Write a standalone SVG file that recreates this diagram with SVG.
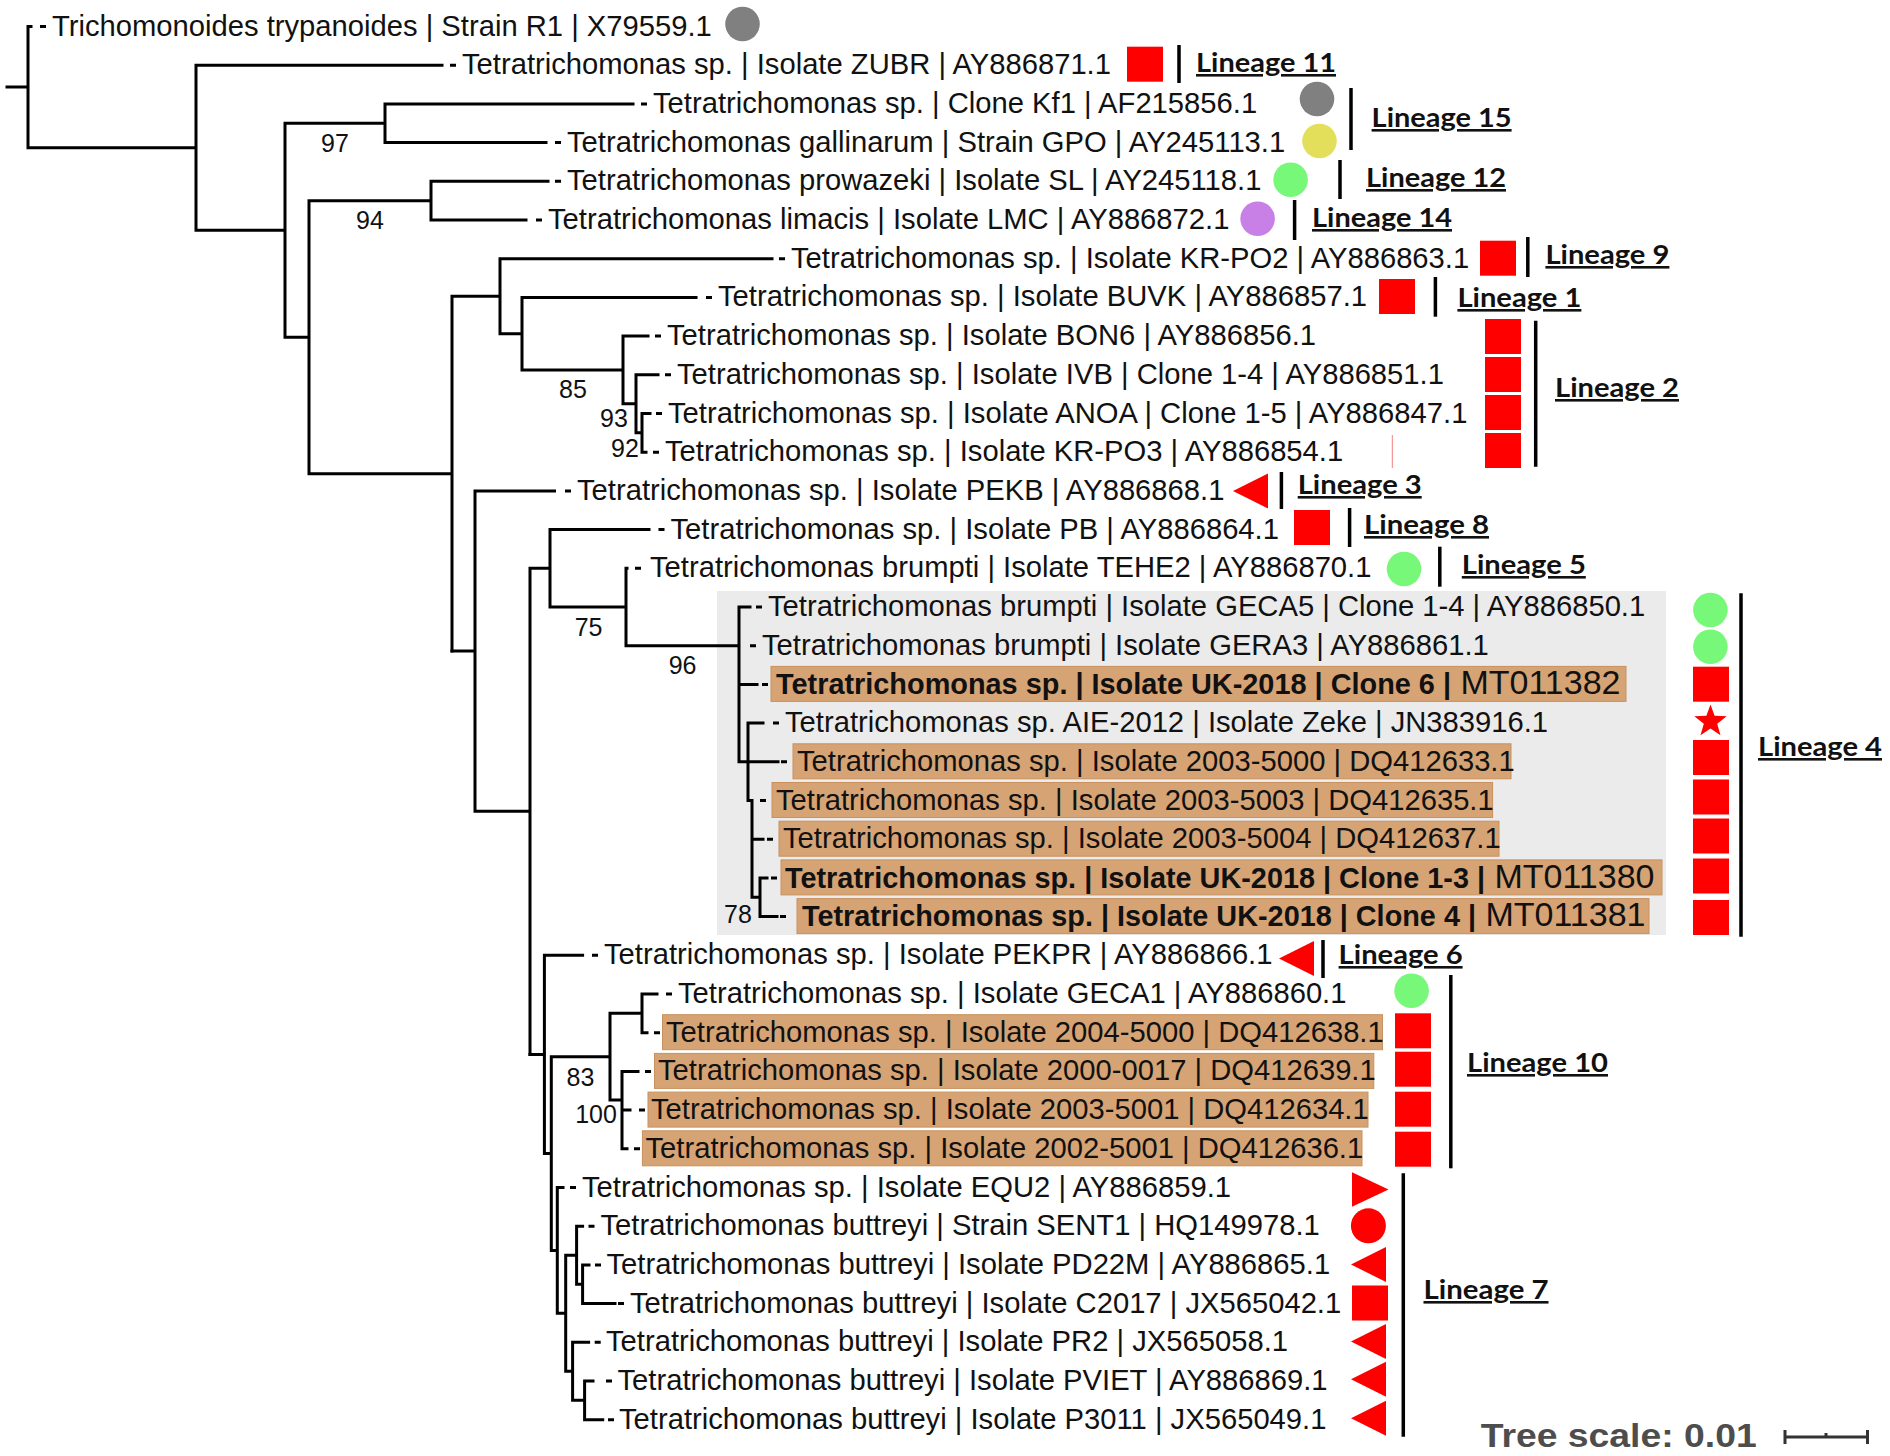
<svg xmlns="http://www.w3.org/2000/svg" xmlns:xlink="http://www.w3.org/1999/xlink" width="1890" height="1456" viewBox="0 0 1890 1456">
<style>
.br{stroke:#000;stroke-width:3;fill:none;stroke-linecap:square;stroke-linejoin:miter}
.ds{stroke:#000;stroke-width:3;fill:none}
.lbl{font-family:"Liberation Sans",Arial,sans-serif;font-size:29.2px;fill:#111}
.b{font-weight:bold}
.mt{font-weight:normal;font-size:34px}
.hl{fill:#d6a374;stroke:#c9915d;stroke-width:1}
.sup{font-family:"Liberation Sans",Arial,sans-serif;font-size:25px;fill:#111;text-anchor:middle}
.lin{font-family:Lato,"Liberation Sans",sans-serif;font-weight:bold;font-size:26px;fill:#111;text-decoration:underline}
.bar{stroke:#000;stroke-width:3.5}
.red{fill:#ff0000}
.scale{font-family:"Liberation Sans",Arial,sans-serif;font-weight:bold;font-size:33px;fill:#4d4d4d}
</style>
<defs>
<rect id="sq" width="36" height="35" fill="#ff0000"/>
<polygon id="tl" points="0,17.5 35,0 35,35" fill="#ff0000"/>
<polygon id="tr" points="0,0 0,34.5 36.5,17.2" fill="#ff0000"/>
</defs>
<rect id="lineage4-bg" x="717" y="591" width="949" height="344" fill="#ebebeb"/>
<g id="connectors">
<path class="br" d="M7,87.1H28M28,26.5V147.7M28,26.5H31M28,147.7H196M196,65.2V230.2M196,65.2H442M196,230.2H285M285,123.25V337.15M285,123.25H385M385,103.9V142.6M385,103.9H633M385,142.6H546M285,337.15H309M309,200.65V473.65M309,200.65H431M431,181.3V220M431,181.3H548M431,220H526M309,473.65H452M452,296.2V651.1M452,296.2H500M500,258.7V333.7M500,258.7H772M500,333.7H522M522,297.4V369.95M522,297.4H696M522,369.95H623M623,336.1V403.8M623,336.1H648M623,403.8H636M636,374.8V432.85M636,374.8H658M636,432.85H642M642,413.5V452.2M642,413.5H650M642,452.2H646"/>
<path class="br" d="M452,651.1H475M475,490.9V811.35M475,490.9H554.5M475,811.35H530M530,568.3V1054.4M530,568.3H550M550,529.6V607M550,529.6H649M550,607H626M626,568.3V645.7M626,568.3H627M626,645.7H739M739,607V761.8M739,607H750M739,684.4H757M739,761.8H748M748,723.1V800.5M748,723.1H763M748,761.8H778M748,800.5H752M752,800.5V897.25M752,839.2H763M752,897.25H760M760,877.9V916.6M760,877.9H767M760,916.6H777"/>
<path class="br" d="M530,1054.4H544.4M544.4,955.3V1153.55M544.4,955.3H582.6M544.4,1153.55H551.3M551.3,1056.7V1250.4M551.3,1056.7H610M610,1013.35V1100M610,1013.35H642M642,994V1032.7M642,994H657M642,1032.7H647M610,1100H622M622,1071.4V1148.8M622,1071.4H638M622,1110.1H630M622,1148.8H627M551.3,1250.4H557.3M557.3,1187.5V1313.25M557.3,1187.5H563M557.3,1313.25H565.7M565.7,1255.2V1371.3M565.7,1255.2H576.6M576.6,1226.2V1284.25M576.6,1226.2H582.6M576.6,1284.25H582.6M582.6,1264.9V1303.6M582.6,1264.9H589M582.6,1303.6H615M565.7,1371.3H572.6M572.6,1342.3V1400.35M572.6,1342.3H588.6M572.6,1400.35H584.6M584.6,1381V1419.7M584.6,1381H593M584.6,1419.7H602.7"/>
<path class="ds" d="M40,26.5h6M450,65.2h6M641,103.9h6M555,142.6h6M555,181.3h6M536,220h6M779,258.7h6M706,297.4h6M655,336.1h6M665,374.8h6M656,413.5h6M653,452.2h6M565,490.9h6M658.5,529.6h6M635,568.3h6M756,607h6M750,645.7h6M762,684.4h6M773,723.1h6M781,761.8h6M760,800.5h6M767,839.2h6M771,877.9h6M780,916.6h6M592,955.3h6M666,994h6M654,1032.7h6M645,1071.4h6M639,1110.1h6M634,1148.8h6M570,1187.5h6M588.5,1226.2h6M595,1264.9h6M618,1303.6h6M594.7,1342.3h6M606,1381h6M608,1419.7h6"/>
</g>
<g id="support-values">
<text class="sup" x="335" y="152">97</text>
<text class="sup" x="370" y="229">94</text>
<text class="sup" x="573" y="398">85</text>
<text class="sup" x="614" y="427">93</text>
<text class="sup" x="625" y="457">92</text>
<text class="sup" x="588.6" y="635.7">75</text>
<text class="sup" x="682.6" y="674">96</text>
<text class="sup" x="738" y="922.5">78</text>
<text class="sup" x="580.5" y="1085.5">83</text>
<text class="sup" x="596" y="1123">100</text>
</g>
<g id="leaf-0"><text class="lbl" x="52" y="35.5">Trichomonoides trypanoides | Strain R1 | X79559.1</text><circle cx="742.5" cy="24" r="17.3" fill="#808080"/></g>
<g id="leaf-1"><text class="lbl" x="462" y="74.2">Tetratrichomonas sp. | Isolate ZUBR | AY886871.1</text><use href="#sq" x="1127" y="46.7"/></g>
<g id="leaf-2"><text class="lbl" x="653" y="112.9">Tetratrichomonas sp. | Clone Kf1 | AF215856.1</text><circle cx="1317" cy="99" r="17.3" fill="#808080"/></g>
<g id="leaf-3"><text class="lbl" x="567" y="151.6">Tetratrichomonas gallinarum | Strain GPO | AY245113.1</text><circle cx="1319.5" cy="141" r="17.3" fill="#e3df5a"/></g>
<g id="leaf-4"><text class="lbl" x="567" y="190.3">Tetratrichomonas prowazeki | Isolate SL | AY245118.1</text><circle cx="1290.6" cy="179.8" r="17.3" fill="#78f878"/></g>
<g id="leaf-5"><text class="lbl" x="548" y="229">Tetratrichomonas limacis | Isolate LMC | AY886872.1</text><circle cx="1257.6" cy="218.7" r="17.3" fill="#c880e6"/></g>
<g id="leaf-6"><text class="lbl" x="791" y="267.7">Tetratrichomonas sp. | Isolate KR-PO2 | AY886863.1</text><use href="#sq" x="1480" y="240.7"/></g>
<g id="leaf-7"><text class="lbl" x="718" y="306.4">Tetratrichomonas sp. | Isolate BUVK | AY886857.1</text><use href="#sq" x="1379" y="279"/></g>
<g id="leaf-8"><text class="lbl" x="667" y="345.1">Tetratrichomonas sp. | Isolate BON6 | AY886856.1</text><use href="#sq" x="1485" y="319"/></g>
<g id="leaf-9"><text class="lbl" x="677" y="383.8">Tetratrichomonas sp. | Isolate IVB | Clone 1-4 | AY886851.1</text><use href="#sq" x="1485" y="357"/></g>
<g id="leaf-10"><text class="lbl" x="668" y="422.5">Tetratrichomonas sp. | Isolate ANOA | Clone 1-5 | AY886847.1</text><use href="#sq" x="1485" y="395"/></g>
<g id="leaf-11"><text class="lbl" x="665" y="461.2">Tetratrichomonas sp. | Isolate KR-PO3 | AY886854.1</text><line x1="1392.3" y1="435" x2="1392.3" y2="468" stroke="#f08080" stroke-width="1"/><use href="#sq" x="1485" y="433"/></g>
<g id="leaf-12"><text class="lbl" x="577" y="499.9">Tetratrichomonas sp. | Isolate PEKB | AY886868.1</text><use href="#tl" x="1233" y="473.5"/></g>
<g id="leaf-13"><text class="lbl" x="670.5" y="538.6">Tetratrichomonas sp. | Isolate PB | AY886864.1</text><use href="#sq" x="1294" y="510"/></g>
<g id="leaf-14"><text class="lbl" x="650" y="577.3">Tetratrichomonas brumpti | Isolate TEHE2 | AY886870.1</text><circle cx="1404" cy="569" r="17.3" fill="#78f878"/></g>
<g id="leaf-15"><text class="lbl" x="768" y="616">Tetratrichomonas brumpti | Isolate GECA5 | Clone 1-4 | AY886850.1</text><circle cx="1710.4" cy="610" r="17.3" fill="#78f878"/></g>
<g id="leaf-16"><text class="lbl" x="762" y="654.7">Tetratrichomonas brumpti | Isolate GERA3 | AY886861.1</text><circle cx="1710.4" cy="646.8" r="17.3" fill="#78f878"/></g>
<g id="leaf-17"><rect class="hl" x="771" y="666.4" width="855" height="35"/><text class="lbl" x="776" y="694"><tspan class="b" textLength="675" lengthAdjust="spacingAndGlyphs">Tetratrichomonas sp. | Isolate UK-2018 | Clone 6 |</tspan><tspan class="mt"> MT011382</tspan></text><use href="#sq" x="1693" y="666.7"/></g>
<g id="leaf-18"><text class="lbl" x="785" y="732.1">Tetratrichomonas sp. AIE-2012 | Isolate Zeke | JN383916.1</text><polygon class="red" points="1710.5,704.5 1714.6,715.8 1726.7,716.2 1717.2,723.7 1720.5,735.2 1710.5,728.5 1700.5,735.2 1703.8,723.7 1694.3,716.2 1706.4,715.8"/></g>
<g id="leaf-19"><rect class="hl" x="793" y="743.8" width="718" height="35"/><text class="lbl" x="797" y="770.8">Tetratrichomonas sp. | Isolate 2003-5000 | DQ412633.1</text><use href="#sq" x="1693" y="740"/></g>
<g id="leaf-20"><rect class="hl" x="772" y="782.5" width="720.6" height="35"/><text class="lbl" x="776" y="809.5">Tetratrichomonas sp. | Isolate 2003-5003 | DQ412635.1</text><use href="#sq" x="1693" y="779.5"/></g>
<g id="leaf-21"><rect class="hl" x="779" y="821.2" width="720" height="35"/><text class="lbl" x="783" y="848.2">Tetratrichomonas sp. | Isolate 2003-5004 | DQ412637.1</text><use href="#sq" x="1693" y="818.5"/></g>
<g id="leaf-22"><rect class="hl" x="781" y="859.9" width="881" height="35"/><text class="lbl" x="785" y="887.5"><tspan class="b" textLength="700" lengthAdjust="spacingAndGlyphs">Tetratrichomonas sp. | Isolate UK-2018 | Clone 1-3 |</tspan><tspan class="mt"> MT011380</tspan></text><use href="#sq" x="1693" y="858.5"/></g>
<g id="leaf-23"><rect class="hl" x="797" y="898.6" width="852" height="35"/><text class="lbl" x="802" y="926.2"><tspan class="b" textLength="674" lengthAdjust="spacingAndGlyphs">Tetratrichomonas sp. | Isolate UK-2018 | Clone 4 |</tspan><tspan class="mt"> MT011381</tspan></text><use href="#sq" x="1693" y="900"/></g>
<g id="leaf-24"><text class="lbl" x="604" y="964.3">Tetratrichomonas sp. | Isolate PEKPR | AY886866.1</text><use href="#tl" x="1279" y="941"/></g>
<g id="leaf-25"><text class="lbl" x="678" y="1003">Tetratrichomonas sp. | Isolate GECA1 | AY886860.1</text><circle cx="1411.6" cy="990.8" r="17.3" fill="#78f878"/></g>
<g id="leaf-26"><rect class="hl" x="662.5" y="1014.7" width="720" height="35"/><text class="lbl" x="666" y="1041.7">Tetratrichomonas sp. | Isolate 2004-5000 | DQ412638.1</text><use href="#sq" x="1395" y="1013.3"/></g>
<g id="leaf-27"><rect class="hl" x="654.5" y="1053.4" width="719.3" height="35"/><text class="lbl" x="658" y="1080.4">Tetratrichomonas sp. | Isolate 2000-0017 | DQ412639.1</text><use href="#sq" x="1395" y="1051.7"/></g>
<g id="leaf-28"><rect class="hl" x="648" y="1092.1" width="720" height="35"/><text class="lbl" x="651" y="1119.1">Tetratrichomonas sp. | Isolate 2003-5001 | DQ412634.1</text><use href="#sq" x="1395" y="1091.7"/></g>
<g id="leaf-29"><rect class="hl" x="642.4" y="1130.8" width="719.6" height="35"/><text class="lbl" x="645.5" y="1157.8">Tetratrichomonas sp. | Isolate 2002-5001 | DQ412636.1</text><use href="#sq" x="1395" y="1131.7"/></g>
<g id="leaf-30"><text class="lbl" x="582" y="1196.5">Tetratrichomonas sp. | Isolate EQU2 | AY886859.1</text><use href="#tr" x="1352" y="1172.3"/></g>
<g id="leaf-31"><text class="lbl" x="600.5" y="1235.2">Tetratrichomonas buttreyi | Strain SENT1 | HQ149978.1</text><circle cx="1368.4" cy="1225.8" r="17.5" fill="#ff0000"/></g>
<g id="leaf-32"><text class="lbl" x="606.5" y="1273.9">Tetratrichomonas buttreyi | Isolate PD22M | AY886865.1</text><use href="#tl" x="1351" y="1247"/></g>
<g id="leaf-33"><text class="lbl" x="630" y="1312.6">Tetratrichomonas buttreyi | Isolate C2017 | JX565042.1</text><use href="#sq" x="1352" y="1285.5"/></g>
<g id="leaf-34"><text class="lbl" x="606" y="1351.3">Tetratrichomonas buttreyi | Isolate PR2 | JX565058.1</text><use href="#tl" x="1351" y="1324"/></g>
<g id="leaf-35"><text class="lbl" x="617.5" y="1390">Tetratrichomonas buttreyi | Isolate PVIET | AY886869.1</text><use href="#tl" x="1351" y="1361.7"/></g>
<g id="leaf-36"><text class="lbl" x="619" y="1428.7">Tetratrichomonas buttreyi | Isolate P3011 | JX565049.1</text><use href="#tl" x="1351" y="1400.7"/></g>
<g id="lineage-11"><line class="bar" x1="1179" y1="45" x2="1179" y2="83"/><text class="lin" x="1196" y="72" textLength="140" lengthAdjust="spacingAndGlyphs">Lineage 11</text></g>
<g id="lineage-15"><line class="bar" x1="1351" y1="88" x2="1351" y2="150"/><text class="lin" x="1371.6" y="127" textLength="140" lengthAdjust="spacingAndGlyphs">Lineage 15</text></g>
<g id="lineage-12"><line class="bar" x1="1340" y1="160" x2="1340" y2="199"/><text class="lin" x="1366" y="187" textLength="140" lengthAdjust="spacingAndGlyphs">Lineage 12</text></g>
<g id="lineage-14"><line class="bar" x1="1294.6" y1="200" x2="1294.6" y2="240"/><text class="lin" x="1312" y="227" textLength="140" lengthAdjust="spacingAndGlyphs">Lineage 14</text></g>
<g id="lineage-9"><line class="bar" x1="1527.8" y1="237" x2="1527.8" y2="277"/><text class="lin" x="1545.4" y="264" textLength="124" lengthAdjust="spacingAndGlyphs">Lineage 9</text></g>
<g id="lineage-1"><line class="bar" x1="1435.4" y1="277" x2="1435.4" y2="316.7"/><text class="lin" x="1457.4" y="307" textLength="124" lengthAdjust="spacingAndGlyphs">Lineage 1</text></g>
<g id="lineage-2"><line class="bar" x1="1535.7" y1="320.7" x2="1535.7" y2="466.7"/><text class="lin" x="1555" y="397" textLength="124" lengthAdjust="spacingAndGlyphs">Lineage 2</text></g>
<g id="lineage-3"><line class="bar" x1="1281.4" y1="472" x2="1281.4" y2="509"/><text class="lin" x="1297.7" y="494" textLength="124" lengthAdjust="spacingAndGlyphs">Lineage 3</text></g>
<g id="lineage-8"><line class="bar" x1="1349.6" y1="508" x2="1349.6" y2="547"/><text class="lin" x="1364" y="534" textLength="125" lengthAdjust="spacingAndGlyphs">Lineage 8</text></g>
<g id="lineage-5"><line class="bar" x1="1439.8" y1="546.7" x2="1439.8" y2="586.7"/><text class="lin" x="1461.8" y="574" textLength="124" lengthAdjust="spacingAndGlyphs">Lineage 5</text></g>
<g id="lineage-4"><line class="bar" x1="1741" y1="593.3" x2="1741" y2="936.7"/><text class="lin" x="1758" y="756" textLength="124" lengthAdjust="spacingAndGlyphs">Lineage 4</text></g>
<g id="lineage-6"><line class="bar" x1="1323" y1="940" x2="1323" y2="978"/><text class="lin" x="1338.6" y="964" textLength="124" lengthAdjust="spacingAndGlyphs">Lineage 6</text></g>
<g id="lineage-10"><line class="bar" x1="1450.8" y1="975" x2="1450.8" y2="1168.3"/><text class="lin" x="1467" y="1072" textLength="141" lengthAdjust="spacingAndGlyphs">Lineage 10</text></g>
<g id="lineage-7"><line class="bar" x1="1403.3" y1="1173.3" x2="1403.3" y2="1436.7"/><text class="lin" x="1423.5" y="1299" textLength="125" lengthAdjust="spacingAndGlyphs">Lineage 7</text></g>
<g id="tree-scale"><text class="scale" x="1480.7" y="1447" textLength="276" lengthAdjust="spacingAndGlyphs">Tree scale: 0.01</text><path d="M1785,1437H1867.5M1785,1430V1444M1867.5,1430V1444M1826,1433V1437" stroke="#333" stroke-width="3" fill="none"/></g>
</svg>
